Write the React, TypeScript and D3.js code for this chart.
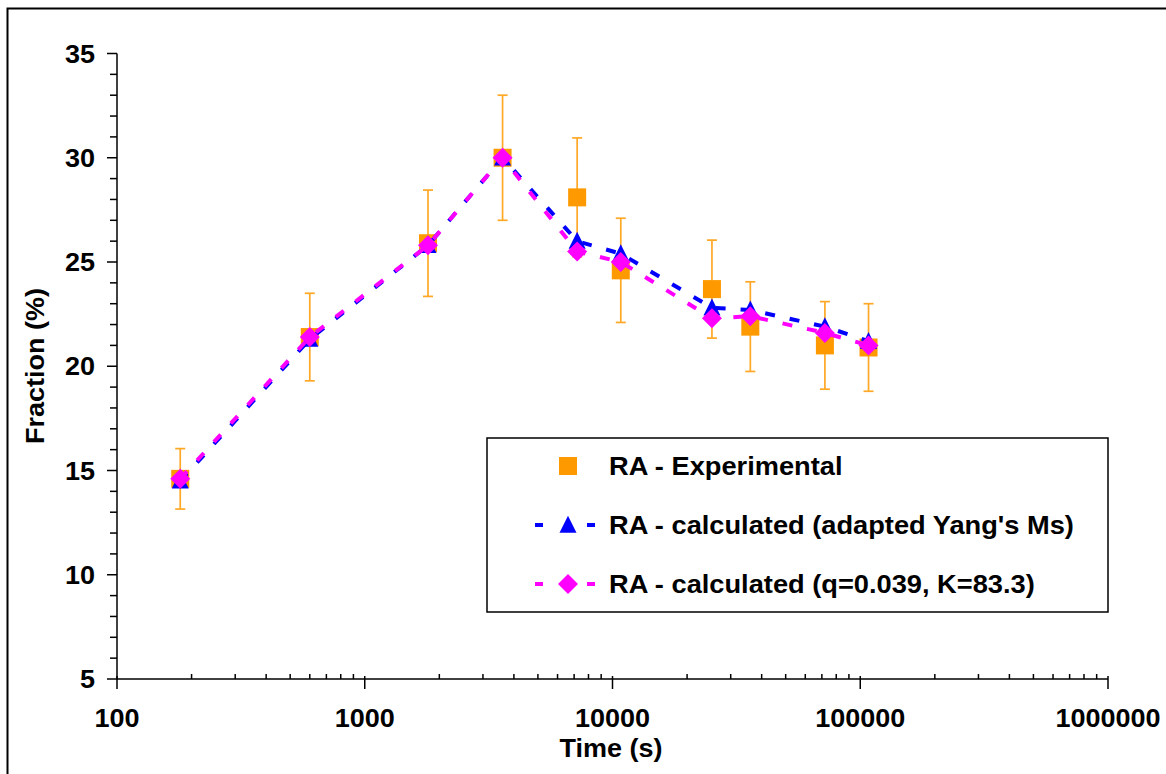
import React from "react";
import * as d3 from "d3";

const times = [180, 600, 1800, 3600, 7200, 10800, 25200, 36000, 72000, 108000];
const experimental = [14.6, 21.4, 25.9, 30.0, 28.1, 24.6, 23.7, 21.9, 21.0, 20.9];
const expError = [1.45, 2.1, 2.55, 3.0, 2.85, 2.5, 2.35, 2.15, 2.1, 2.1];
const calcYang = [14.5, 21.3, 25.8, 30.0, 26.0, 25.4, 22.8, 22.7, 21.9, 21.2];
const calcQK = [14.6, 21.4, 25.8, 30.0, 25.5, 25.0, 22.3, 22.4, 21.6, 21.0];

const xTicks = [100, 1000, 10000, 100000, 1000000];
const yTicks = [5, 10, 15, 20, 25, 30, 35];

const legendLabels = [
  "RA - Experimental",
  "RA - calculated (adapted Yang's Ms)",
  "RA - calculated (q=0.039, K=83.3)",
];

const ORANGE = "#FF9900";
const BLUE = "#0000FF";
const MAGENTA = "#FF00FF";
const FONT = "'Liberation Sans', Arial, sans-serif";
const SX = 1.08;

function Txt(props: {
  x: number;
  y: number;
  anchor?: "start" | "middle" | "end";
  rotate?: number;
  size?: number;
  children: React.ReactNode;
}) {
  const { x, y, anchor = "start", rotate = 0, size = 25, children } = props;
  return (
    <text
      transform={`translate(${x},${y}) rotate(${rotate}) scale(${SX},1)`}
      textAnchor={anchor}
      fontFamily={FONT}
      fontWeight="bold"
      fontSize={size}
      fill="#000"
    >
      {children}
    </text>
  );
}

export default function App() {
  const W = 1166;
  const H = 774;
  const x = d3.scaleLog().domain([100, 1000000]).range([117, 1108]);
  const y = d3.scaleLinear().domain([5, 35]).range([679, 53.5]);

  const minorX: number[] = [];
  for (let e = 2; e < 6; e++) {
    for (let m = 2; m <= 9; m++) minorX.push(m * Math.pow(10, e));
  }
  const minorY = d3.range(5, 36, 1).filter((v) => v % 5 !== 0);

  const line = d3
    .line<number>()
    .x((_, i) => x(times[i]))
    .y((d) => y(d));

  const tri = (cx: number, cy: number, s = 17) =>
    `M${cx},${cy - s * 0.55} L${cx + s / 2},${cy + s * 0.45} L${cx - s / 2},${cy + s * 0.45} Z`;
  const dia = (cx: number, cy: number, r = 10) =>
    `M${cx},${cy - r} L${cx + r},${cy} L${cx},${cy + r} L${cx - r},${cy} Z`;

  const legX = 487;
  const legY = 438;
  const rowY = [466, 525, 584];

  return (
    <svg width={W} height={H} style={{ display: "block", position: "absolute", left: 0, top: 0 }}>
      <rect x={0} y={0} width={W} height={H} fill="#fff" />
      <rect x={7.5} y={8.5} width={1300} height={900} fill="none" stroke="#000" strokeWidth={2} />

      {/* y axis */}
      <line x1={117} x2={117} y1={y(35)} y2={y(5)} stroke="#000" strokeWidth={1.5} />
      {yTicks.map((t) => (
        <g key={"yt" + t}>
          <line x1={107} x2={117} y1={y(t)} y2={y(t)} stroke="#000" strokeWidth={1.5} />
          <Txt x={95} y={y(t) + 9} anchor="end">
            {t}
          </Txt>
        </g>
      ))}
      {minorY.map((t) => (
        <line key={"ym" + t} x1={110} x2={117} y1={y(t)} y2={y(t)} stroke="#000" strokeWidth={1.5} />
      ))}

      {/* x axis */}
      <line x1={117} x2={1108} y1={y(5)} y2={y(5)} stroke="#000" strokeWidth={1.5} />
      {xTicks.map((t) => (
        <g key={"xt" + t}>
          <line x1={x(t)} x2={x(t)} y1={y(5) - 3} y2={y(5) + 10} stroke="#000" strokeWidth={1.5} />
          <Txt x={x(t)} y={727} anchor="middle">
            {t}
          </Txt>
        </g>
      ))}
      {minorX.map((t) => (
        <line key={"xm" + t} x1={x(t)} x2={x(t)} y1={y(5) - 5} y2={y(5)} stroke="#000" strokeWidth={1.5} />
      ))}

      {/* axis titles */}
      <Txt x={611} y={757} anchor="middle">
        Time (s)
      </Txt>
      <text
        transform={`translate(44,366) rotate(-90) scale(${SX},1)`}
        textAnchor="middle"
        fontFamily={FONT}
        fontWeight="bold"
        fontSize={25}
        fill="#000"
      >
        Fraction (%)
      </text>

      {/* error bars */}
      {times.map((t, i) => {
        const cx = x(t);
        const lo = y(experimental[i] - expError[i]);
        const hi = y(experimental[i] + expError[i]);
        return (
          <g key={"eb" + i} stroke={ORANGE} strokeWidth={1.7} opacity={0.85}>
            <line x1={cx} x2={cx} y1={lo} y2={hi} />
            <line x1={cx - 5} x2={cx + 5} y1={lo} y2={lo} />
            <line x1={cx - 5} x2={cx + 5} y1={hi} y2={hi} />
          </g>
        );
      })}

      {/* experimental squares */}
      {times.map((t, i) => (
        <rect
          key={"sq" + i}
          x={x(t) - 9}
          y={y(experimental[i]) - 9}
          width={18}
          height={18}
          fill={ORANGE}
        />
      ))}

      {/* blue series */}
      <path d={line(calcYang) || ""} fill="none" stroke={BLUE} strokeWidth={4} strokeDasharray="10,15" />
      {times.map((t, i) => (
        <path key={"tr" + i} d={tri(x(t), y(calcYang[i]))} fill={BLUE} />
      ))}

      {/* magenta series */}
      <path d={line(calcQK) || ""} fill="none" stroke={MAGENTA} strokeWidth={4} strokeDasharray="10,15" />
      {times.map((t, i) => (
        <path key={"dm" + i} d={dia(x(t), y(calcQK[i]))} fill={MAGENTA} />
      ))}

      {/* legend */}
      <rect x={legX} y={legY} width={621} height={174} fill="#fff" stroke="#000" strokeWidth={1.5} />
      <rect x={559} y={rowY[0] - 9} width={18} height={18} fill={ORANGE} />
      <line x1={535} x2={543} y1={rowY[1]} y2={rowY[1]} stroke={BLUE} strokeWidth={4} />
      <line x1={587} x2={595} y1={rowY[1]} y2={rowY[1]} stroke={BLUE} strokeWidth={4} />
      <path d={tri(568, rowY[1])} fill={BLUE} />
      <line x1={535} x2={543} y1={rowY[2]} y2={rowY[2]} stroke={MAGENTA} strokeWidth={4} />
      <line x1={587} x2={595} y1={rowY[2]} y2={rowY[2]} stroke={MAGENTA} strokeWidth={4} />
      <path d={dia(568, rowY[2])} fill={MAGENTA} />
      {legendLabels.map((lab, i) => (
        <text
          key={"lg" + i}
          transform={`translate(609,${rowY[i] + 9}) scale(1.09,1)`}
          fontFamily={FONT}
          fontWeight="bold"
          fontSize={25}
          fill="#000"
        >
          {lab}
        </text>
      ))}
    </svg>
  );
}
